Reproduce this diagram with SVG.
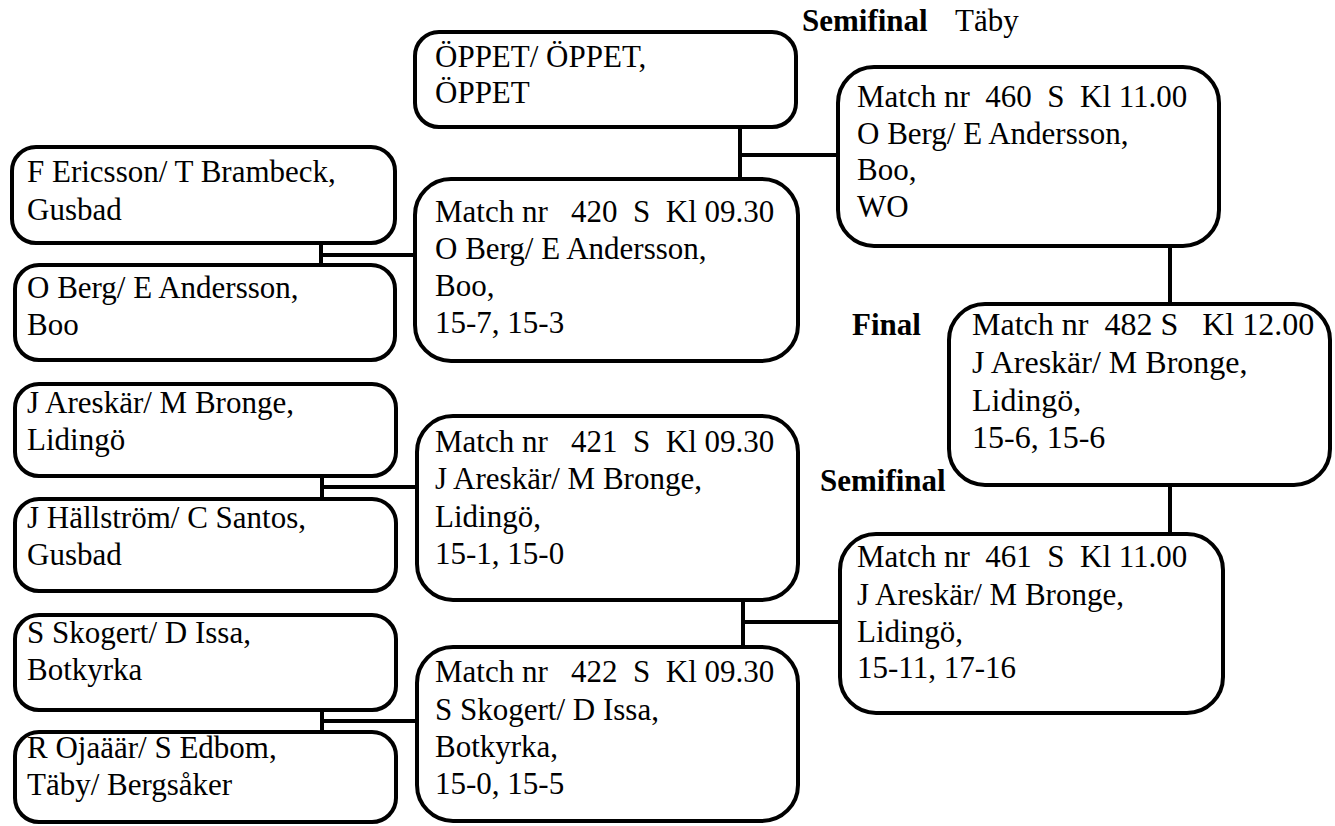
<svg xmlns="http://www.w3.org/2000/svg" width="1335" height="826" viewBox="0 0 1335 826">
<style>
.box{fill:#fff;stroke:#000;stroke-width:4}
text{font-family:'Liberation Serif',Tinos,'Times New Roman','Nimbus Roman','DejaVu Serif',serif;font-size:31px;fill:#000;white-space:pre}
.b{font-weight:bold}
.c{stroke:#000;stroke-width:4;fill:none}
</style>
<rect width="1335" height="826" fill="#fff"/>
<g id="connectors">
<path class="c" d="M321 245V263M321 255H415"/>
<path class="c" d="M322 478V497M322 487H417"/>
<path class="c" d="M322 712V730M322 721H417"/>
<path class="c" d="M740 129V179M740 155H838"/>
<path class="c" d="M743 602V647M743 622H840"/>
<path class="c" d="M1170 248V304"/>
<path class="c" d="M1170 487V534"/>
</g>
<g id="labels" font-family="Liberation Serif, serif">
<text class="b" x="802" y="31">Semifinal</text>
<text x="955" y="31">Täby</text>
<text class="b" x="852" y="335">Final</text>
<text class="b" x="820" y="491">Semifinal</text>
</g>
<g id="oppet" font-family="Liberation Serif, serif">
<rect class="box" x="415" y="32" width="381" height="95" rx="24"/>
<text x="435" y="67">ÖPPET/ ÖPPET,</text>
<text x="435" y="103">ÖPPET</text>
</g>
<g id="ericsson" font-family="Liberation Serif, serif">
<rect class="box" x="12" y="147" width="383" height="96" rx="24"/>
<text x="27" y="182">F Ericsson/ T Brambeck,</text>
<text x="27" y="220">Gusbad</text>
</g>
<g id="berg" font-family="Liberation Serif, serif">
<rect class="box" x="15" y="265" width="380" height="95" rx="24"/>
<text x="27" y="298">O Berg/ E Andersson,</text>
<text x="27" y="335">Boo</text>
</g>
<g id="areskar" font-family="Liberation Serif, serif">
<rect class="box" x="15" y="384" width="381" height="92" rx="24"/>
<text x="27" y="413">J Areskär/ M Bronge,</text>
<text x="27" y="450">Lidingö</text>
</g>
<g id="hallstrom" font-family="Liberation Serif, serif">
<rect class="box" x="15" y="499" width="381" height="92" rx="24"/>
<text x="27" y="528">J Hällström/ C Santos,</text>
<text x="27" y="565">Gusbad</text>
</g>
<g id="skogert" font-family="Liberation Serif, serif">
<rect class="box" x="15" y="615" width="381" height="95" rx="24"/>
<text x="27" y="643">S Skogert/ D Issa,</text>
<text x="27" y="680">Botkyrka</text>
</g>
<g id="ojaaar" font-family="Liberation Serif, serif">
<rect class="box" x="15" y="732" width="381" height="90" rx="24"/>
<text x="27" y="758">R Ojaäär/ S Edbom,</text>
<text x="27" y="795">Täby/ Bergsåker</text>
</g>
<g id="m420" font-family="Liberation Serif, serif">
<rect class="box" x="415" y="179" width="383" height="182" rx="36"/>
<text x="435" y="222">Match nr   420  S  Kl 09.30</text>
<text x="435" y="259">O Berg/ E Andersson,</text>
<text x="435" y="296">Boo,</text>
<text x="435" y="333">15-7, 15-3</text>
</g>
<g id="m421" font-family="Liberation Serif, serif">
<rect class="box" x="417" y="416" width="381" height="184" rx="36"/>
<text x="435" y="452">Match nr   421  S  Kl 09.30</text>
<text x="435" y="489">J Areskär/ M Bronge,</text>
<text x="435" y="527">Lidingö,</text>
<text x="435" y="564">15-1, 15-0</text>
</g>
<g id="m422" font-family="Liberation Serif, serif">
<rect class="box" x="417" y="647" width="381" height="174" rx="36"/>
<text x="435" y="682">Match nr   422  S  Kl 09.30</text>
<text x="435" y="720">S Skogert/ D Issa,</text>
<text x="435" y="757">Botkyrka,</text>
<text x="435" y="794">15-0, 15-5</text>
</g>
<g id="m460" font-family="Liberation Serif, serif">
<rect class="box" x="838" y="67" width="381" height="179" rx="36"/>
<text x="857" y="107">Match nr  460  S  Kl 11.00</text>
<text x="857" y="144">O Berg/ E Andersson,</text>
<text x="857" y="180">Boo,</text>
<text x="857" y="217">WO</text>
</g>
<g id="m482" font-family="Liberation Serif, serif">
<rect class="box" x="949" y="304" width="381" height="181" rx="36"/>
<text x="972" y="335" style="font-size:32px">Match nr  482 S   Kl 12.00</text>
<text x="972" y="373" style="font-size:32px">J Areskär/ M Bronge,</text>
<text x="972" y="411" style="font-size:32px">Lidingö,</text>
<text x="972" y="448" style="font-size:32px">15-6, 15-6</text>
</g>
<g id="m461" font-family="Liberation Serif, serif">
<rect class="box" x="840" y="534" width="383" height="179" rx="36"/>
<text x="857" y="567">Match nr  461  S  Kl 11.00</text>
<text x="857" y="605">J Areskär/ M Bronge,</text>
<text x="857" y="642">Lidingö,</text>
<text x="857" y="678">15-11, 17-16</text>
</g>
</svg>
